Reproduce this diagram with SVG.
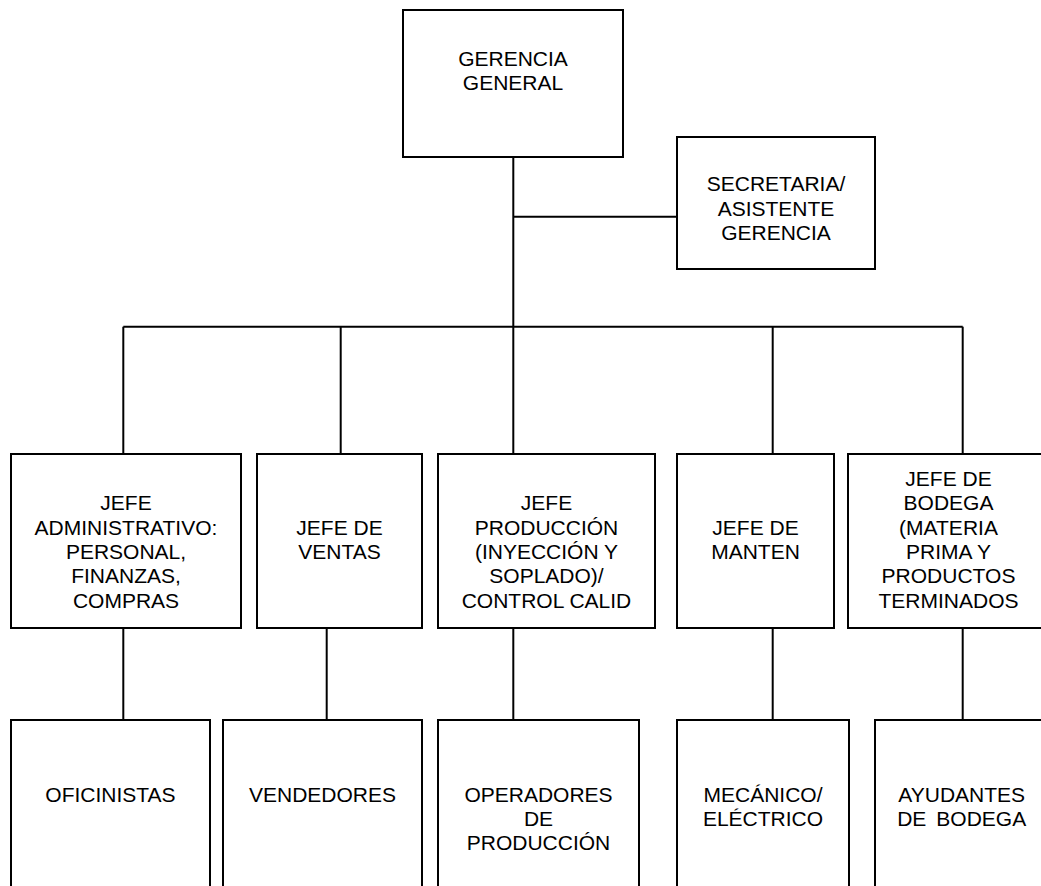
<svg xmlns="http://www.w3.org/2000/svg" width="1041" height="886" viewBox="0 0 1041 886">
  <style>
    .box { fill: #ffffff; stroke: #000000; stroke-width: 2; }
    .link { fill: none; stroke: #000000; stroke-width: 2; }
    .label { font-family: "Liberation Sans", Arial, sans-serif; font-size: 21px; fill: #000000; text-anchor: middle; }
  </style>
  <rect width="1041" height="886" fill="#ffffff"/>

  <!-- reporting lines -->
  <g id="connectors" class="link">
    <path d="M513.3 157 V454"/>
    <path d="M513.3 216.7 H677"/>
    <path d="M123.3 326.7 H962.7"/>
    <path d="M123.3 326.7 V454"/>
    <path d="M340.7 326.7 V454"/>
    <path d="M772.7 326.7 V454"/>
    <path d="M962.7 326.7 V454"/>
    <path d="M123.3 628 V720"/>
    <path d="M326.7 628 V720"/>
    <path d="M513.3 628 V720"/>
    <path d="M772.7 628 V720"/>
    <path d="M962.7 628 V720"/>
  </g>

  <!-- top level -->
  <g id="gerencia-general">
    <rect class="box" x="403" y="10" width="220" height="147"/>
    <text class="label"><tspan x="513" y="65.7">GERENCIA</tspan><tspan x="513" y="90">GENERAL</tspan></text>
  </g>
  <g id="secretaria">
    <rect class="box" x="677" y="137" width="198" height="132"/>
    <text class="label"><tspan x="776" y="191">SECRETARIA/</tspan><tspan x="776" y="215.5">ASISTENTE</tspan><tspan x="776" y="240">GERENCIA</tspan></text>
  </g>

  <!-- department heads -->
  <g id="jefe-administrativo">
    <rect class="box" x="11" y="454" width="230" height="174"/>
    <text class="label"><tspan x="126" y="510.1">JEFE</tspan><tspan x="126" y="534.5">ADMINISTRATIVO:</tspan><tspan x="126" y="558.9">PERSONAL,</tspan><tspan x="126" y="583.3">FINANZAS,</tspan><tspan x="126" y="607.7">COMPRAS</tspan></text>
  </g>
  <g id="jefe-ventas">
    <rect class="box" x="257" y="454" width="165" height="174"/>
    <text class="label"><tspan x="339.5" y="534.5">JEFE DE</tspan><tspan x="339.5" y="558.9">VENTAS</tspan></text>
  </g>
  <g id="jefe-produccion">
    <rect class="box" x="438" y="454" width="217" height="174"/>
    <text class="label"><tspan x="546.5" y="510.1">JEFE</tspan><tspan x="546.5" y="534.5">PRODUCCIÓN</tspan><tspan x="546.5" y="558.9">(INYECCIÓN Y</tspan><tspan x="546.5" y="583.3">SOPLADO)/</tspan><tspan x="546.5" y="607.7">CONTROL CALID</tspan></text>
  </g>
  <g id="jefe-mantenimiento">
    <rect class="box" x="677" y="454" width="157" height="174"/>
    <text class="label"><tspan x="755.5" y="534.5">JEFE DE</tspan><tspan x="755.5" y="558.9">MANTEN</tspan></text>
  </g>
  <g id="jefe-bodega">
    <rect class="box" x="848" y="454" width="202" height="174"/>
    <text class="label"><tspan x="948.5" y="485.7">JEFE DE</tspan><tspan x="948.5" y="510.1">BODEGA</tspan><tspan x="948.5" y="534.5">(MATERIA</tspan><tspan x="948.5" y="558.9">PRIMA Y</tspan><tspan x="948.5" y="583.3">PRODUCTOS</tspan><tspan x="948.5" y="607.7">TERMINADOS</tspan></text>
  </g>

  <!-- staff -->
  <g id="oficinistas">
    <rect class="box" x="11" y="720" width="199" height="200"/>
    <text class="label"><tspan x="110.5" y="801.7">OFICINISTAS</tspan></text>
  </g>
  <g id="vendedores">
    <rect class="box" x="223" y="720" width="199" height="200"/>
    <text class="label"><tspan x="322.5" y="801.7">VENDEDORES</tspan></text>
  </g>
  <g id="operadores">
    <rect class="box" x="438" y="720" width="201" height="200"/>
    <text class="label"><tspan x="538.5" y="801.7">OPERADORES</tspan><tspan x="538.5" y="825.9">DE</tspan><tspan x="538.5" y="850.1">PRODUCCIÓN</tspan></text>
  </g>
  <g id="mecanico-electrico">
    <rect class="box" x="677" y="720" width="172" height="200"/>
    <text class="label"><tspan x="763" y="801.7">MECÁNICO/</tspan><tspan x="763" y="825.9">ELÉCTRICO</tspan></text>
  </g>
  <g id="ayudantes-bodega">
    <rect class="box" x="875" y="720" width="175" height="200"/>
    <text class="label"><tspan x="961.7" y="801.7">AYUDANTES</tspan><tspan x="961.7" y="825.9">DE<tspan dx="10">BODEGA</tspan></tspan></text>
  </g>
</svg>
